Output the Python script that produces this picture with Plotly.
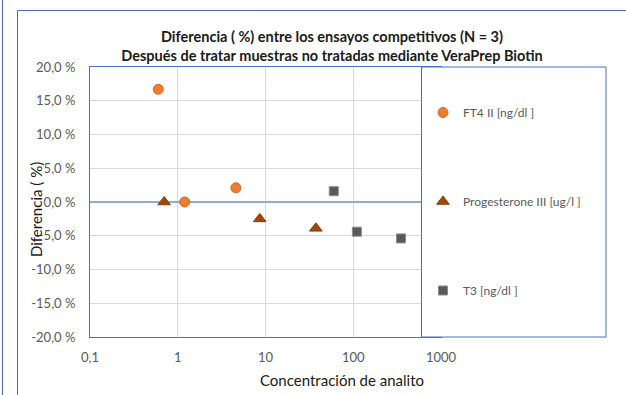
import plotly.graph_objects as go

# ---- data ----
ft4_x = [0.6, 1.2, 4.6]
ft4_y = [16.7, 0.0, 2.1]
prog_x = [0.7, 8.6, 37.5]
prog_y = [0.0, -2.5, -3.9]
t3_x = [60, 110, 350]
t3_y = [1.6, -4.4, -5.4]

series_names = ["FT4 II [ng/dl ]", "Progesterone III [ug/l ]", "T3 [ng/dl ]"]
y_ticks = [-20, -15, -10, -5, 0, 5, 10, 15, 20]
y_ticktext = ["-20,0 %", "-15,0 %", "-10,0 %", "-5,0 %", "0,0 %", "5,0 %", "10,0 %", "15,0 %", "20,0 %"]
x_ticks = [0.1, 1, 10, 100, 1000]
x_ticktext = ["0,1", "1", "10", "100", "1000"]

FONT = "Lato"
W, H = 626, 395
L, R, T, B = 90, 441, 67, 337  # plot area in pixels

def px_x(p):
    return (p - L) / (R - L)

def px_y(p):
    return (B - p) / (B - T)

fig = go.Figure()
fig.add_trace(go.Scatter(
    x=ft4_x, y=ft4_y, mode="markers", name=series_names[0], legendgroup="a",
    marker=dict(symbol="circle", size=10, color="#ED7D31", line=dict(color="#D2691E", width=1)),
))
fig.add_trace(go.Scatter(
    x=prog_x, y=prog_y, mode="markers", name=series_names[1], legendgroup="b",
    marker=dict(symbol="triangle-up", size=11, color="#9E480E", line=dict(color="#843C0C", width=1)),
))
fig.add_trace(go.Scatter(
    x=t3_x, y=t3_y, mode="markers", name=series_names[2], legendgroup="c",
    marker=dict(symbol="square", size=9, color="#595959", line=dict(color="#8C8C8C", width=1)),
))

shapes = [
    # legend box overlaying the right part of the plot area
    dict(type="rect", xref="paper", yref="paper", layer="above",
         x0=px_x(421.5), x1=px_x(606), y0=px_y(337), y1=px_y(67),
         fillcolor="white", line=dict(color="#4472C4", width=1)),
    # outer chart frame
    dict(type="rect", xref="paper", yref="paper", layer="above",
         x0=px_x(17.5), x1=px_x(700), y0=px_y(500), y1=px_y(10.5),
         fillcolor="rgba(0,0,0,0)", line=dict(color="#4A6AA8", width=1)),
    dict(type="line", xref="paper", yref="paper", layer="above",
         x0=px_x(2.5), x1=px_x(2.5), y0=px_y(-10), y1=px_y(500),
         line=dict(color="#4A6AA8", width=1)),
]

annotations = [
    dict(text="Diferencia ( %)", textangle=-90, xref="paper", yref="paper",
         x=px_x(36), y=px_y(210), xanchor="center", yanchor="middle", showarrow=False,
         font=dict(family=FONT, size=15, color="#1a1a1a")),
    dict(text="Concentración de analito", xref="paper", yref="paper",
         x=px_x(342), y=px_y(380), xanchor="center", yanchor="middle", showarrow=False,
         font=dict(family=FONT, size=15, color="#1a1a1a")),
]

fig.update_layout(
    width=W, height=H, autosize=False,
    margin=dict(l=L, r=W - R, t=T, b=H - B, pad=0),
    paper_bgcolor="white", plot_bgcolor="white",
    font=dict(family=FONT, color="#595959", size=13),
    title=dict(
        text="<b>Diferencia ( %) entre los ensayos competitivos (N = 3)<br>Después de tratar muestras no tratadas mediante VeraPrep Biotin</b>",
        x=332 / W, xanchor="center", xref="container",
        y=1 - 42 / H, yanchor="middle", yref="container",
        font=dict(family=FONT, size=14.5, color="#1a1a1a"),
    ),
    showlegend=True,
    legend=dict(
        x=px_x(423), y=px_y(98), xanchor="left", yanchor="top",
        bgcolor="rgba(0,0,0,0)", borderwidth=0,
        font=dict(family=FONT, size=12, color="#595959"),
        tracegroupgap=70, traceorder="grouped", itemwidth=30,
    ),
    shapes=shapes,
    annotations=annotations,
    xaxis=dict(
        type="log", range=[-1, 3],
        tickvals=x_ticks, ticktext=x_ticktext,
        showgrid=True, gridcolor="#D9D9D9", gridwidth=1,
        showline=True, linecolor="#4472C4", linewidth=1, mirror=True,
        ticks="", ticklabelstandoff=8,
        tickfont=dict(family=FONT, size=13, color="#595959"),
        zeroline=False,
    ),
    yaxis=dict(
        range=[-20, 20], tickvals=y_ticks, ticktext=y_ticktext,
        showgrid=True, gridcolor="#D9D9D9", gridwidth=1,
        showline=True, linecolor="#4472C4", linewidth=1, mirror=True,
        ticks="", ticklabelstandoff=11,
        tickfont=dict(family=FONT, size=13, color="#595959"),
        zeroline=True, zerolinecolor="#8FAADC", zerolinewidth=2,
    ),
)

fig.write_html("out.html")
